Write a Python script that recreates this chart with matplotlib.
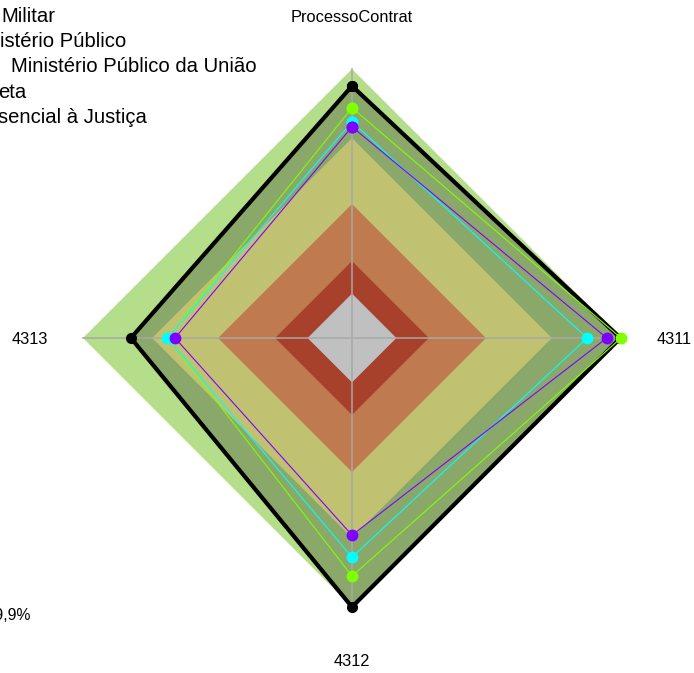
import numpy as np
import matplotlib.pyplot as plt

plt.rcParams['font.family'] = ['Liberation Sans', 'DejaVu Sans']

# eixos do radar (sentido horario a partir do topo)
eixos = ['ProcessoContrat', '4311', '4312', '4313']

# faixas de fundo (raio relativo) e cores
faixas = [1.0, 0.743, 0.498, 0.286, 0.165]
cores_faixas = ['#B5DE8B', '#C1C172', '#C07A4F', '#A8412B', '#C0C0C0']

# series
serie_preta = [0.937, 0.998, 1.0, 0.822]
serie_verde = [0.856, 1.0, 0.885, 0.686]
serie_ciano = [0.804, 0.874, 0.815, 0.686]
serie_roxa = [0.785, 0.947, 0.733, 0.658]

# legenda, cortada na borda esquerda (so o trecho visivel)
legenda = ['Militar', 'istério Público', 'Ministério Público da União',
           'eta', 'sencial à Justiça']
legenda_x = [1, 0.5, 11, -2, -1.5]
nota = ['Atingido', 'Meta: 99,9%']

angulos = np.linspace(0, 2 * np.pi, len(eixos), endpoint=False)
ang = np.append(angulos, angulos[0])


def fechar(v):
    return v + v[:1]


fig = plt.figure(figsize=(6.94, 6.73), dpi=100)
rmax = 1.2
raio_px = 269 * rmax
ax = fig.add_axes([(352 - raio_px) / 694, (335 - raio_px) / 673,
                   2 * raio_px / 694, 2 * raio_px / 673], projection='polar')
ax.set_theta_zero_location('N')
ax.set_theta_direction(-1)
ax.set_ylim(0, rmax)
ax.set_axis_off()

# faixa externa, depois preenchimento da serie preta, depois faixas internas
ax.fill(ang, [faixas[0]] * len(ang), color=cores_faixas[0], lw=0, zorder=1)
ax.fill(ang, fechar(serie_preta), color='#8AA86A', lw=0, zorder=2)
for r, c in zip(faixas[1:], cores_faixas[1:]):
    ax.fill(ang, [r] * len(ang), color=c, lw=0, zorder=3)

# raios
for a in angulos:
    ax.plot([a, a], [0, 1.0], color='#A8A8A8', lw=1.1, zorder=4)

ax.plot(ang, fechar(serie_preta), color='black', lw=3, marker='o', ms=7, zorder=5)
ax.plot(ang, fechar(serie_verde), color='#80FF00', lw=0.8, marker='o', ms=7.5, zorder=6)
ax.plot(ang, fechar(serie_ciano), color='#00FFFF', lw=0.8, marker='o', ms=7.5, zorder=7)
ax.plot(ang, fechar(serie_roxa), color='#8000FF', lw=0.8, marker='o', ms=7.5, zorder=8)

for a, nome in zip(angulos, eixos):
    ax.text(a, 1.197, nome, ha='center', va='center_baseline', fontsize=11.8, clip_on=False)

for i, txt in enumerate(legenda):
    fig.text(legenda_x[i] / 694, 1 - (22 + 25.2 * i) / 673, txt, fontsize=14.6,
             ha='left', va='baseline')

for i, txt in enumerate(nota):
    fig.text(-58 / 694, 1 - (600 + 20.5 * i) / 673, txt, fontsize=11.3,
             ha='left', va='baseline')

fig.savefig('out.png', dpi=100)
